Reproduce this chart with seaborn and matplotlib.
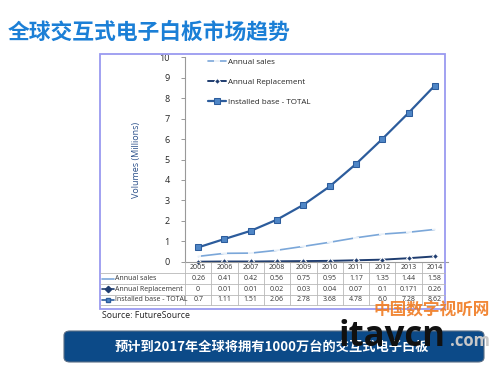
import matplotlib
matplotlib.use("Agg")
import matplotlib.pyplot as plt
import matplotlib.transforms as mtransforms
from matplotlib.lines import Line2D
from matplotlib.patches import Rectangle, FancyBboxPatch
import pandas as pd
import seaborn as sns

# Data
years = ["2005", "2006", "2007", "2008", "2009", "2010", "2011", "2012", "2013", "2014"]
annual_sales = [0.26, 0.41, 0.42, 0.56, 0.75, 0.95, 1.17, 1.35, 1.44, 1.58]
annual_replacement = [0, 0.01, 0.01, 0.02, 0.03, 0.04, 0.07, 0.1, 0.171, 0.26]
installed_base = [0.7, 1.11, 1.51, 2.06, 2.78, 3.68, 4.78, 6.0, 7.28, 8.62]
sales_txt = ["0.26", "0.41", "0.42", "0.56", "0.75", "0.95", "1.17", "1.35", "1.44", "1.58"]
repl_txt = ["0", "0.01", "0.01", "0.02", "0.03", "0.04", "0.07", "0.1", "0.171", "0.26"]
base_txt = ["0.7", "1.11", "1.51", "2.06", "2.78", "3.68", "4.78", "6.0", "7.28", "8.62"]

df = pd.DataFrame({"pos": range(len(years)), "year": years,
                   "sales": annual_sales, "repl": annual_replacement,
                   "base": installed_base})

c_sales = "#7ba7d9"
c_repl = "#1f3d70"
c_base = "#2c5c9c"

sns.set_style("white")
plt.rcParams["font.family"] = ["Open Sans", "Noto Sans CJK SC", "DejaVu Sans"]
cjk = ["Noto Sans CJK SC", "DejaVu Sans"]

W, H = 500, 375
fig = plt.figure(figsize=(5, 3.75), dpi=100)
fig.patch.set_facecolor("white")


def fx(px):
    return px / W


def fy(py):
    return 1 - py / H


# title
fig.text(fx(8), fy(32), "全球交互式电子白板市场趋势", family=cjk, fontsize=15.7,
         fontweight="bold", color="#1b7fd6", va="center", ha="left")

# frame box around chart + table
fig.add_artist(Rectangle((fx(100), fy(309)), fx(445) - fx(100), fy(54) - fy(309),
                         transform=fig.transFigure, fill=False,
                         edgecolor="#9a9af0", lw=1.3))

ax = fig.add_axes([fx(185), fy(261.7), fx(448) - fx(185), fy(57.3) - fy(261.7)])
ax.set_facecolor("none")

sns.lineplot(data=df, x="pos", y="sales", ax=ax, color=c_sales, lw=1.2,
             marker="_", markersize=5, markeredgewidth=1.2, clip_on=False,
             label="Annual sales")
sns.lineplot(data=df, x="pos", y="repl", ax=ax, color=c_repl, lw=1.4,
             marker="D", markersize=3, clip_on=False,
             label="Annual Replacement")
sns.lineplot(data=df, x="pos", y="base", ax=ax, color=c_base, lw=1.6,
             marker="s", markersize=4.5, markerfacecolor="#4f86c6",
             markeredgecolor="#2c5c9c", clip_on=False,
             label="Installed base - TOTAL")

ax.set_xlim(-0.5, len(years) - 0.5)
ax.set_ylim(0, 10)
ax.set_yticks(range(0, 11))
ax.set_xticks([])
ax.set_xlabel("")
ax.set_ylabel("Volumes (Millions)", fontsize=6.5, color="#2a4f8a", labelpad=13)
ax.tick_params(axis="y", labelsize=6.5, length=3, width=0.6, color="#888888",
               pad=8, left=True)
for s in ["top", "right"]:
    ax.spines[s].set_visible(False)
for s in ["left", "bottom"]:
    ax.spines[s].set_color("#999999")
    ax.spines[s].set_linewidth(0.8)

ax.legend(loc="upper left", bbox_to_anchor=(0.06, 1.03), frameon=False,
          fontsize=5.8, labelspacing=1.55, handlelength=2.2, handletextpad=0.3)

# data table under the axis
tr = mtransforms.blended_transform_factory(ax.transData, fig.transFigure)
grid_c = "#b8b8b8"
row_lines = [273, 284.3, 294.6, 305]
for py in row_lines:
    fig.add_artist(Line2D([fx(100), fx(445)], [fy(py), fy(py)],
                          transform=fig.transFigure, color=grid_c, lw=0.6))
fig.add_artist(Line2D([fx(185), fx(185)], [fy(262), fy(305)],
                      transform=fig.transFigure, color=grid_c, lw=0.6))
for i in range(1, len(years)):
    ax.add_artist(Line2D([i - 0.5, i - 0.5], [fy(262), fy(305)], transform=tr,
                         color=grid_c, lw=0.6, clip_on=False))

row_y = [279, 289.4, 299.7]
for i, y in enumerate(years):
    ax.text(i, fy(267.6), y, transform=tr, ha="center", va="center",
            fontsize=5, color="#333333", clip_on=False)
for vals, py in zip([sales_txt, repl_txt, base_txt], row_y):
    for i, v in enumerate(vals):
        ax.text(i, fy(py), v, transform=tr, ha="center", va="center",
                fontsize=5, color="#333333", clip_on=False)

row_names = ["Annual sales", "Annual Replacement", "Installed base - TOTAL"]
row_styles = [(c_sales, None, "#7ba7d9"), (c_repl, "D", c_repl),
              (c_base, "s", "#4f86c6")]
for name, py, (col, mk, fc) in zip(row_names, row_y, row_styles):
    fig.add_artist(Line2D([fx(102), fx(114)], [fy(py), fy(py)],
                          transform=fig.transFigure, color=col, lw=1.2))
    if mk:
        fig.add_artist(Line2D([fx(108)], [fy(py)], transform=fig.transFigure,
                              marker=mk, markersize=3.2, color=col,
                              markerfacecolor=fc, lw=0))
    fig.text(fx(115), fy(py), name, fontsize=5, color="#333333",
             va="center", ha="left")

fig.text(fx(102), fy(316), "Source: FutureSource", fontsize=6.3,
         color="#222222", va="center", ha="left")

# bottom banner
fig.add_artist(FancyBboxPatch((fx(64), fy(362)), fx(484) - fx(64), fy(331) - fy(362),
                              boxstyle="round,pad=0,rounding_size=0.012",
                              transform=fig.transFigure, facecolor="#0c4a88",
                              edgecolor="#5a6e86", lw=0.8))
fig.text(fx(272), fy(347), "预计到2017年全球将拥有1000万台的交互式电子白板",
         family=cjk, fontsize=9.5, fontweight="bold", color="white",
         ha="center", va="center")

# watermark
fig.text(fx(432), fy(310), "中国数字视听网", family=cjk, fontsize=12,
         fontweight="bold", style="italic", color="#f07b22", alpha=0.9,
         ha="center", va="center")
fig.text(fx(392), fy(337), "itavcn", fontsize=25, fontweight="bold",
         color="#111111", ha="center", va="center")
fig.text(fx(470), fy(341), ".com", fontsize=12, fontweight="bold",
         color="#c8c8c8", ha="center", va="center")

fig.savefig("out.png", dpi=100)
